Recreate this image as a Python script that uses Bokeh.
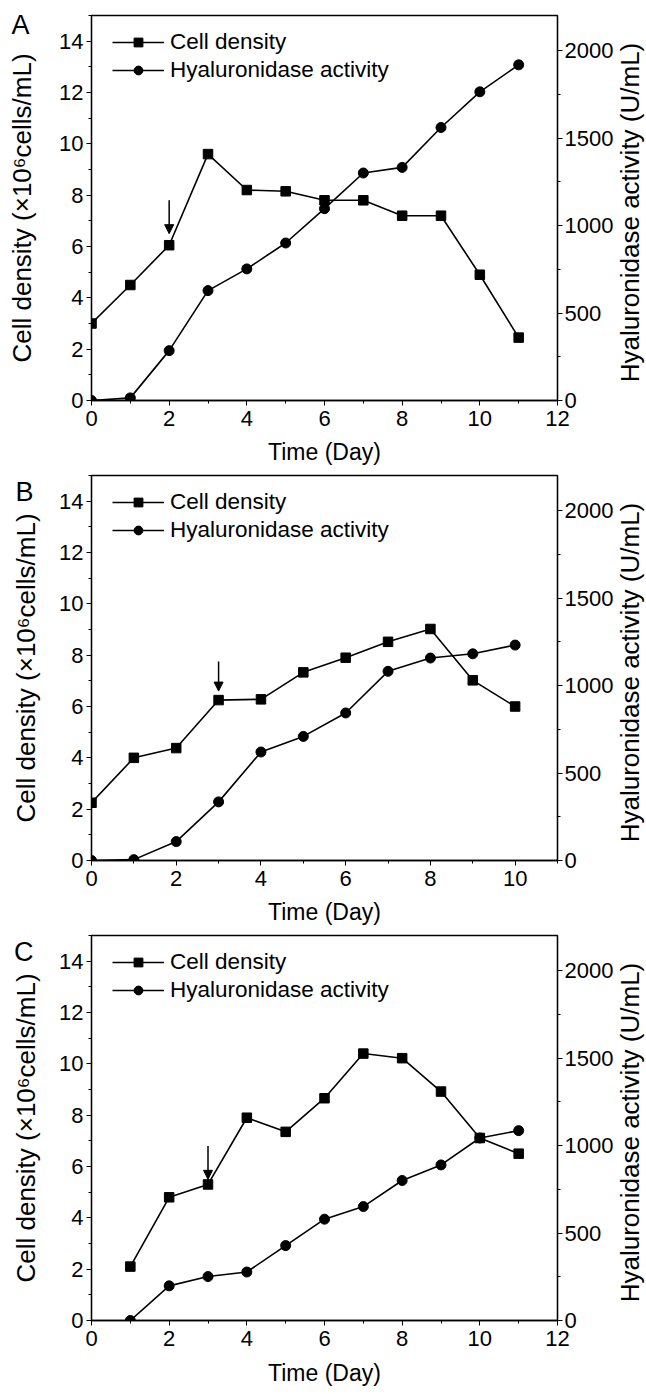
import math
from bokeh.plotting import figure
from bokeh.models import (Range1d, LinearAxis, SingleIntervalTicker, FixedTicker, Legend,
                          LegendItem, Arrow, NormalHead, Label, ColumnDataSource)
from bokeh.layouts import column
from bokeh.embed import file_html
from bokeh.resources import INLINE

FONT = "Liberation Sans"

# ---------------- data ----------------
panel_letters = ["A", "B", "C"]
x_max = [12, 11, 12]

days_a = [0, 1, 2, 3, 4, 5, 6, 7, 8, 9, 10, 11]
cell_a = [3.0, 4.5, 6.05, 9.6, 8.2, 8.15, 7.8, 7.8, 7.2, 7.2, 4.9, 2.45]
hyal_a = [0, 15, 285, 628, 752, 900, 1096, 1300, 1332, 1560, 1764, 1918]

days_b = [0, 1, 2, 3, 4, 5, 6, 7, 8, 9, 10]
cell_b = [2.25, 4.0, 4.38, 6.25, 6.28, 7.33, 7.9, 8.52, 9.02, 7.02, 6.0]
hyal_b = [0, 5, 108, 335, 620, 709, 843, 1081, 1157, 1181, 1231]

days_c = [1, 2, 3, 4, 5, 6, 7, 8, 9, 10, 11]
cell_c = [2.1, 4.8, 5.3, 7.9, 7.35, 8.66, 10.4, 10.22, 8.92, 7.11, 6.5]
hyal_c = [0, 198, 251, 277, 428, 579, 651, 800, 889, 1043, 1085]

# arrows (day, start value, tip value) on the cell-density scale
arrow_day = [2, 3, 3]
arrow_top = [7.8, 7.75, 6.8]
arrow_tip = [6.5, 6.6, 5.5]

left_title = "Cell density (\u00d710\u2076cells/mL)"
right_title = "Hyaluronidase activity (U/mL)"
x_title = "Time (Day)"
legend_labels = ["Cell density", "Hyaluronidase activity"]

# where the panel letter sits along the cell-density scale
letter_at = 14.62

W = 646
FRAME_H = 385


def hidden_axis(ax):
    ax.axis_line_color = None
    ax.major_tick_line_color = None
    ax.minor_tick_line_color = None
    ax.major_tick_in = 0
    ax.major_tick_out = 0
    ax.minor_tick_in = 0
    ax.minor_tick_out = 0
    ax.major_label_text_font = FONT
    ax.major_label_text_color = "black"


def make_panel(idx, days, cell, hyal, top, bottom, left, right, title_standoff, x_standoff):
    height = top + FRAME_H + bottom
    p = figure(width=W, height=height,
               x_range=Range1d(0, x_max[idx]), y_range=Range1d(0, 15),
               output_backend="svg", toolbar_location=None,
               min_border_left=left, min_border_right=right,
               min_border_top=top, min_border_bottom=bottom)
    p.extra_y_ranges = {"hy": Range1d(0, 2200)}
    p.xgrid.visible = False
    p.ygrid.visible = False
    p.outline_line_color = "black"
    p.outline_line_width = 1.3
    p.background_fill_color = "white"
    p.border_fill_color = "white"

    xa = p.xaxis[0]
    xa.ticker = SingleIntervalTicker(interval=2, num_minor_ticks=2)
    ya = p.yaxis[0]
    ya.ticker = SingleIntervalTicker(interval=2, num_minor_ticks=2)
    ra = LinearAxis(y_range_name="hy",
                    ticker=SingleIntervalTicker(interval=500, num_minor_ticks=2))
    p.add_layout(ra, "right")

    for ax in (xa, ya, ra):
        ax.axis_line_color = "black"
        ax.axis_line_width = 1.3
        ax.major_tick_line_color = "black"
        ax.minor_tick_line_color = "black"
        ax.major_tick_in = 0
        ax.major_tick_out = 5
        ax.minor_tick_in = 0
        ax.minor_tick_out = 3
        ax.major_label_text_font = FONT
        ax.major_label_text_font_size = "22px"
        ax.major_label_text_color = "black"
        ax.axis_label_text_font = FONT
        ax.axis_label_text_font_style = "normal"
        ax.axis_label_text_color = "black"
        ax.major_label_standoff = 3

    xa.axis_label = x_title
    xa.axis_label_text_font_size = "23px"
    xa.major_label_standoff = 5
    xa.axis_label_standoff = x_standoff
    ya.axis_label = left_title
    ya.axis_label_text_font_size = "26px"
    ya.axis_label_standoff = title_standoff
    ra.major_label_standoff = 2

    # panel letter: a bare tick label on an outer, invisible left axis
    la = LinearAxis(ticker=FixedTicker(ticks=[letter_at], minor_ticks=[]),
                    major_label_overrides={letter_at: panel_letters[idx]})
    hidden_axis(la)
    la.major_label_text_font_size = "27px"
    la.major_label_standoff = -25
    p.add_layout(la, "left")

    # right-hand title, reading bottom-to-top, in the right side panel
    p.add_layout(Label(x=13, y=188, x_units="screen", y_units="screen",
                       text=right_title, angle=math.pi / 2,
                       text_align="center", text_baseline="middle",
                       text_font=FONT, text_font_size="26px", text_color="black"),
                 "right")

    src = ColumnDataSource(dict(day=days, cell=cell, hyal=hyal))
    l1 = p.line("day", "cell", source=src, line_color="black", line_width=1.6)
    s1 = p.scatter("day", "cell", source=src, marker="square", size=9.5,
                   fill_color="black", line_color="black")
    l2 = p.line("day", "hyal", source=src, line_color="black", line_width=1.6,
                y_range_name="hy")
    s2 = p.scatter("day", "hyal", source=src, marker="circle", size=10,
                   fill_color="black", line_color="black", y_range_name="hy")

    legend = Legend(items=[LegendItem(label=legend_labels[0], renderers=[l1, s1]),
                           LegendItem(label=legend_labels[1], renderers=[l2, s2])],
                    location=(21, 317))
    legend.glyph_width = 52
    legend.glyph_height = 22
    legend.label_standoff = 6
    legend.spacing = 2
    legend.padding = 0
    legend.margin = 0
    legend.label_text_font = FONT
    legend.label_text_font_size = "22.5px"
    legend.label_text_color = "black"
    legend.background_fill_alpha = 0
    legend.border_line_alpha = 0
    p.add_layout(legend)

    p.add_layout(Arrow(end=NormalHead(size=9, fill_color="black", line_color="black",
                                      line_width=1),
                       x_start=arrow_day[idx], y_start=arrow_top[idx],
                       x_end=arrow_day[idx], y_end=arrow_tip[idx],
                       line_color="black", line_width=1.5))
    return p


pa = make_panel(0, days_a, cell_a, hyal_a, 15, 73, 91, 88, 19, 10)
pb = make_panel(1, days_b, cell_b, hyal_b, 2, 73, 87, 86, 15, 10)
pc = make_panel(2, days_c, cell_c, hyal_c, 2, 74, 87, 88, 15, 11)

layout = column(pa, pb, pc, spacing=0)
open("out.html", "w").write(file_html(layout, INLINE))
